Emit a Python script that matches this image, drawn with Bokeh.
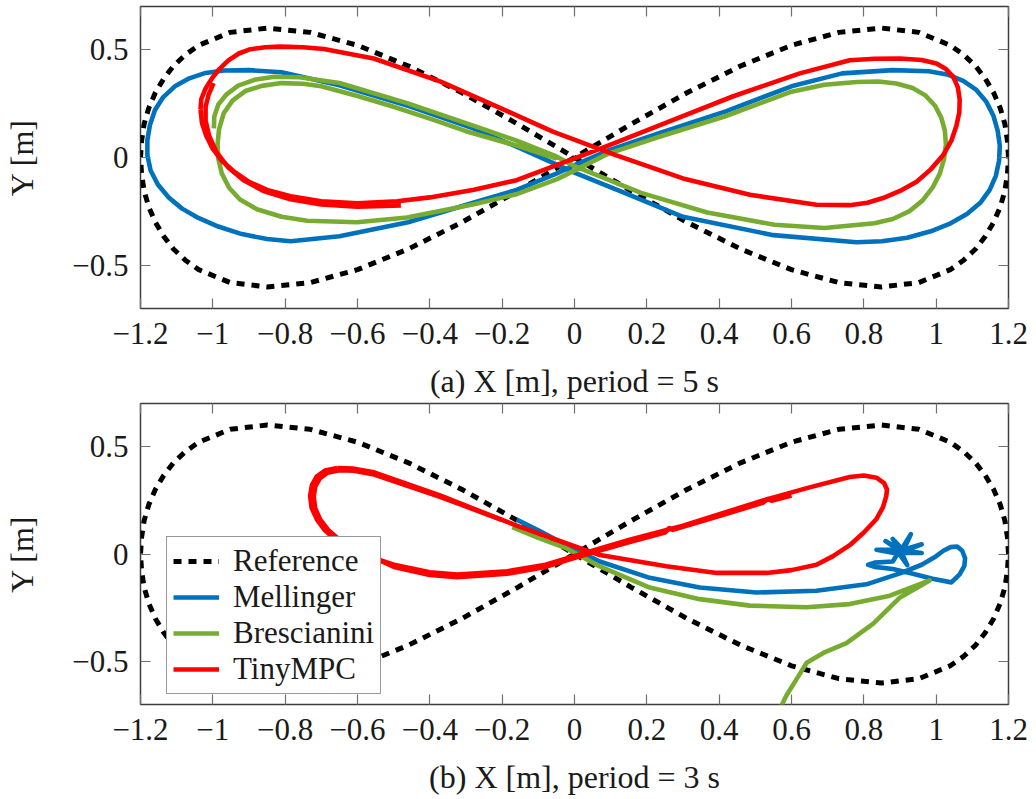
from bokeh.plotting import figure
from bokeh.models import (Range1d, LinearAxis, FixedTicker, CustomJSTickFormatter,
                          Legend, LegendItem)
from bokeh.layouts import column
from bokeh.embed import file_html
from bokeh.resources import INLINE

FONT = "Liberation Serif"

# ---------------- data ----------------
X_TICKS = [-1.2, -1.0, -0.8, -0.6, -0.4, -0.2, 0.0, 0.2, 0.4, 0.6, 0.8, 1.0, 1.2]
Y_TICKS = [-0.5, 0.0, 0.5]
CAPTION_A = "(a) X [m], period = 5 s"
CAPTION_B = "(b) X [m], period = 3 s"
Y_LABEL = "Y [m]"
SERIES = ["Reference", "Mellinger", "Brescianini", "TinyMPC"]

ref_x = [1.200, 1.197, 1.190, 1.177, 1.159, 1.136, 1.109, 1.076, 1.039, 0.952, 0.849, 0.731, 0.600,
         0.459, 0.311, 0.157, 0.000, -0.157, -0.311, -0.459, -0.600, -0.731, -0.849, -0.952,
         -1.039, -1.076, -1.109, -1.136, -1.159, -1.177, -1.190, -1.197, -1.200, -1.197, -1.190,
         -1.177, -1.159, -1.136, -1.109, -1.076, -1.039, -0.952, -0.849, -0.731, -0.600, -0.459,
         -0.311, -0.157, 0.000, 0.157, 0.311, 0.459, 0.600, 0.731, 0.849, 0.952, 1.039, 1.076,
         1.109, 1.136, 1.159, 1.177, 1.190, 1.197, 1.200]
ref_y = [0.000, 0.078, 0.155, 0.230, 0.300, 0.365, 0.424, 0.476, 0.520, 0.580, 0.600, 0.580, 0.520,
         0.424, 0.300, 0.155, 0.000, -0.155, -0.300, -0.424, -0.520, -0.580, -0.600, -0.580,
         -0.520, -0.476, -0.424, -0.365, -0.300, -0.230, -0.155, -0.078, 0.000, 0.078, 0.155,
         0.230, 0.300, 0.365, 0.424, 0.476, 0.520, 0.580, 0.600, 0.580, 0.520, 0.424,
         0.300, 0.155, 0.000, -0.155, -0.300, -0.424, -0.520, -0.580, -0.600, -0.580, -0.520, -0.476,
         -0.424, -0.365, -0.300, -0.230, -0.155, -0.078, 0.000]

# (a) period = 5 s
mel_a_x = [0.000, 0.090, 0.230, 0.420, 0.600, 0.740, 0.880, 0.980, 1.030, 1.075, 1.110, 1.138,
           1.158, 1.170, 1.176, 1.174, 1.165, 1.148, 1.122, 1.085, 1.040, 0.985, 0.920, 0.850,
           0.780, 0.550, 0.300, 0.140, 0.000, -0.160, -0.280, -0.460, -0.650, -0.810, -0.900,
           -0.970, -1.020, -1.065, -1.105, -1.137, -1.160, -1.174, -1.181, -1.181, -1.172, -1.152,
           -1.122, -1.085, -1.040, -0.985, -0.920, -0.850, -0.785, -0.650, -0.460, -0.280, -0.160,
           -0.050, 0.000]
mel_a_y = [-0.035, 0.030, 0.110, 0.215, 0.330, 0.390, 0.405, 0.400, 0.385, 0.355, 0.315, 0.260,
           0.195, 0.125, 0.055, -0.015, -0.085, -0.150, -0.210, -0.262, -0.305, -0.342, -0.372, -0.388,
           -0.393, -0.360, -0.275, -0.165, -0.070, 0.050, 0.135, 0.240, 0.335, 0.395, 0.405,
           0.403, 0.392, 0.367, 0.330, 0.280, 0.220, 0.150, 0.080, 0.010, -0.060, -0.125,
           -0.185, -0.237, -0.280, -0.320, -0.355, -0.378, -0.388, -0.365, -0.300, -0.210, -0.150,
           -0.075, -0.035]

bre_a_x = [-0.997, -0.996, -0.985, -0.962, -0.930, -0.885, -0.830, -0.760, -0.650, -0.463, -0.280,
           -0.160, -0.050, 0.000, 0.184, 0.367, 0.553, 0.691, 0.829, 0.880, 0.925, 0.962, 0.990,
           1.010, 1.022, 1.027, 1.024, 1.014, 0.997, 0.970, 0.935, 0.890, 0.840, 0.780, 0.691,
           0.600, 0.415, 0.230, 0.092, -0.048, -0.160, -0.278, -0.463, -0.601, -0.739, -0.810,
           -0.878, -0.925, -0.955, -0.975, -0.985, -0.987, -0.983, -0.970, -0.945, -0.910, -0.865,
           -0.810, -0.750, -0.700, -0.600, -0.500, -0.400, -0.300, -0.160, -0.050]
bre_a_y = [0.135, 0.190, 0.245, 0.293, 0.333, 0.360, 0.374, 0.372, 0.345, 0.252, 0.148,
           0.078, 0.005, -0.040, -0.164, -0.255, -0.312, -0.327, -0.305, -0.285, -0.250, -0.200, -0.140,
           -0.075, -0.005, 0.060, 0.125, 0.185, 0.240, 0.288, 0.322, 0.343, 0.352, 0.350, 0.337,
           0.305, 0.190, 0.094, 0.017, -0.100, -0.170, -0.217, -0.278, -0.300, -0.293, -0.275,
           -0.240, -0.195, -0.140, -0.075, -0.005, 0.060, 0.130, 0.205, 0.265, 0.308, 0.332,
           0.345, 0.342, 0.330, 0.285, 0.235, 0.180, 0.122, 0.055, -0.005]

tiny_a_x = [-1.034, -1.032, -1.020, -1.002, -0.982, -0.957, -0.928, -0.896, -0.855, -0.813, -0.750,
            -0.693, -0.555, -0.370, -0.186, -0.060, 0.116, 0.300, 0.485, 0.669, 0.761, 0.810, 0.853,
            0.900, 0.946, 0.985, 1.019, 1.042, 1.056, 1.064, 1.065, 1.060, 1.047, 1.027, 1.001,
            0.960, 0.900, 0.830, 0.761, 0.623, 0.439, 0.254, 0.070, -0.160, -0.278, -0.400, -0.490,
            -0.600, -0.700, -0.785, -0.850, -0.900, -0.942, -0.975, -1.000, -1.018, -1.030, -1.034]
tiny_a_y = [0.223, 0.270, 0.320, 0.368, 0.410, 0.450, 0.482, 0.502, 0.511, 0.514, 0.511,
            0.503, 0.459, 0.352, 0.215, 0.120, 0.010, -0.097, -0.173, -0.219, -0.221, -0.210, -0.188,
            -0.155, -0.112, -0.055, 0.010, 0.078, 0.147, 0.210, 0.268, 0.325, 0.375, 0.410, 0.436,
            0.452, 0.459, 0.458, 0.451, 0.390, 0.284, 0.162, 0.040, -0.105, -0.150, -0.185, -0.203,
            -0.212, -0.203, -0.180, -0.150, -0.113, -0.065, -0.015, 0.040, 0.100, 0.160, 0.223]
tiny_a2_x = [-0.480, -0.600, -0.700, -0.790, -0.860, -0.915, -0.958, -0.990, -1.010, -1.020, -1.020,
             -1.012, -0.998]
tiny_a2_y = [-0.222, -0.228, -0.218, -0.192, -0.155, -0.105, -0.045, 0.025, 0.100, 0.170, 0.235,
             0.290, 0.345]

# (b) period = 3 s
mel_b_x = [-0.160, -0.100, -0.022, 0.070, 0.208, 0.346, 0.503, 0.669, 0.807, 0.900, 0.960, 1.000,
           1.020, 1.040, 1.058, 1.072, 1.080, 1.078, 1.065, 1.042, 0.990, 0.930, 0.880, 0.830,
           0.812, 0.830, 0.880, 0.900, 0.880, 0.905, 0.930, 0.910, 0.960, 0.912, 0.960, 0.905,
           0.920, 0.898, 0.835, 0.895, 0.860, 0.900]
mel_b_y = [0.160, 0.110, 0.041, -0.035, -0.111, -0.156, -0.179, -0.171, -0.141, -0.090, -0.050, -0.010,
           0.015, 0.032, 0.035, 0.015, -0.020, -0.055, -0.095, -0.132, -0.115, -0.090, -0.070, -0.060,
           -0.050, -0.040, -0.035, 0.020, 0.070, 0.025, 0.092, 0.020, 0.045, 0.015, 0.005, 0.005,
           -0.052, 0.000, 0.020, 0.020, 0.060, 0.020]

bre_b_x = [-0.172, -0.100, -0.022, 0.070, 0.208, 0.346, 0.485, 0.642, 0.761, 0.872, 0.982,
           0.900, 0.826, 0.752, 0.688, 0.642, 0.614, 0.586, 0.565]
bre_b_y = [0.125, 0.075, 0.026, -0.058, -0.156, -0.210, -0.240, -0.248, -0.233, -0.194, -0.123,
           -0.202, -0.324, -0.415, -0.460, -0.506, -0.582, -0.658, -0.730]

tiny_b_x = [-0.656, -0.690, -0.713, -0.726, -0.731, -0.727, -0.712, -0.690, -0.660, -0.620, -0.580,
            -0.499, -0.400, -0.324, -0.186, -0.080, 0.024, 0.150, 0.300, 0.531, 0.650, 0.761, 0.800,
            0.835, 0.856, 0.864, 0.862, 0.853, 0.835, 0.800, 0.761, 0.715, 0.669, 0.600, 0.531,
            0.393, 0.254, 0.070, -0.002, -0.160, -0.186, -0.370, -0.554, -0.610, -0.656]
tiny_b_y = [0.400, 0.388, 0.360, 0.320, 0.270, 0.215, 0.160, 0.110, 0.065, 0.025, -0.005,
            -0.050, -0.085, -0.096, -0.080, -0.050, 0.003, 0.065, 0.132, 0.254, 0.310, 0.358, 0.365,
            0.355, 0.330, 0.300, 0.269, 0.218, 0.163, 0.100, 0.041, -0.010, -0.050, -0.075, -0.088,
            -0.088, -0.057, -0.005, 0.037, 0.132, 0.149, 0.271, 0.380, 0.397, 0.400]
tiny_b2_x = [-0.200, -0.370, -0.554, -0.610, -0.650, -0.683, -0.704, -0.717, -0.721, -0.717, -0.703,
             -0.681, -0.651, -0.612, -0.573, -0.496, -0.400, -0.324, -0.186, -0.080, 0.024, 0.150,
             0.250, 0.262, 0.272, 0.400, 0.520, 0.535, 0.545, 0.600]
tiny_b2_y = [0.158, 0.265, 0.370, 0.387, 0.390, 0.378, 0.352, 0.314, 0.266, 0.213, 0.160,
             0.112, 0.068, 0.028, -0.003, -0.062, -0.098, -0.108, -0.092, -0.060, -0.006, 0.055,
             0.100, 0.120, 0.112, 0.176, 0.238, 0.256, 0.248, 0.272]

# ---------------- styling ----------------
C_REF = "black"
C_MEL = "#0072BD"
C_BRE = "#77AC30"
C_TINY = "#FF0000"
LW = 4.6

TICK_CODE = r"""
if (Math.abs(tick) < 1e-9) { return "0"; }
let s = tick.toFixed(1);
if (s.endsWith(".0")) { s = s.slice(0, -2); }
return s.replace("-", "\u2212");
"""


def make_fig(height, border_top, border_bottom, caption, tick_standoff, label_standoff):
    p = figure(width=1028, height=height, x_range=Range1d(-1.2, 1.2), y_range=Range1d(-0.7, 0.7),
               output_backend="svg", toolbar_location=None,
               min_border_left=140, min_border_right=20,
               min_border_top=border_top, min_border_bottom=border_bottom)
    p.grid.visible = False
    p.outline_line_color = "#3c3c3c"
    p.outline_line_width = 1.5
    p.background_fill_color = "white"
    p.border_fill_color = "white"

    fmt = CustomJSTickFormatter(code=TICK_CODE)
    xa = p.xaxis[0]
    xa.ticker = FixedTicker(ticks=X_TICKS)
    xa.formatter = fmt
    xa.axis_label = caption
    ya = p.yaxis[0]
    ya.ticker = FixedTicker(ticks=Y_TICKS)
    ya.formatter = fmt
    ya.axis_label = Y_LABEL
    for ax in (xa, ya):
        ax.axis_line_color = None
        ax.major_tick_in = 10
        ax.major_tick_out = 0
        ax.major_tick_line_color = "#707070"
        ax.major_tick_line_width = 1.2
        ax.minor_tick_line_color = None
        ax.major_label_text_font = FONT
        ax.major_label_text_font_size = "31px"
        ax.major_label_text_color = "#1a1a1a"
        ax.axis_label_text_font = FONT
        ax.axis_label_text_font_size = "32px"
        ax.axis_label_text_font_style = "normal"
        ax.axis_label_text_color = "#1a1a1a"
    xa.major_label_standoff = tick_standoff
    xa.axis_label_standoff = label_standoff
    ya.major_label_standoff = 12
    ya.axis_label_standoff = 29

    blank = CustomJSTickFormatter(code='return "";')
    for loc, ticks in (("above", X_TICKS), ("right", Y_TICKS)):
        ax = LinearAxis(ticker=FixedTicker(ticks=ticks), formatter=blank,
                        major_label_text_font_size="0px", major_label_standoff=0,
                        major_tick_in=10, major_tick_out=0,
                        major_tick_line_color="#707070", major_tick_line_width=1.2,
                        minor_tick_line_color=None, axis_line_color=None)
        p.add_layout(ax, loc)
    return p


def draw(p, mel, bre, tiny, extra_tiny):
    r_ref = p.line(ref_x, ref_y, line_color=C_REF, line_width=5, line_dash="8 7")
    r_mel = p.line(mel[0], mel[1], line_color=C_MEL, line_width=LW, line_join="round")
    r_bre = p.line(bre[0], bre[1], line_color=C_BRE, line_width=LW, line_join="round")
    r_tiny = p.line(tiny[0], tiny[1], line_color=C_TINY, line_width=LW, line_join="round")
    p.line(extra_tiny[0], extra_tiny[1], line_color=C_TINY, line_width=LW, line_join="round")
    return [r_ref, r_mel, r_bre, r_tiny]


pa = make_fig(401, 6, 89, CAPTION_A, 14, 16)
draw(pa, (mel_a_x, mel_a_y), (bre_a_x, bre_a_y), (tiny_a_x, tiny_a_y), (tiny_a2_x, tiny_a2_y))

pb = make_fig(396, 2, 88, CAPTION_B, 14, 16)
rs = draw(pb, (mel_b_x, mel_b_y), (bre_b_x, bre_b_y), (tiny_b_x, tiny_b_y), (tiny_b2_x, tiny_b2_y))

legend = Legend(items=[LegendItem(label=lab, renderers=[r]) for lab, r in zip(SERIES, rs)],
                location=(26, 10), padding=6, spacing=0, margin=0,
                label_height=36, glyph_height=36, glyph_width=46, label_standoff=14,
                border_line_color="#333333", border_line_width=1.5,
                background_fill_color="white", background_fill_alpha=1.0,
                label_text_font=FONT, label_text_font_size="31px", label_text_color="#1a1a1a")
pb.add_layout(legend)

layout = column(pa, pb, spacing=0)
open("out.html", "w").write(file_html(layout, INLINE))
